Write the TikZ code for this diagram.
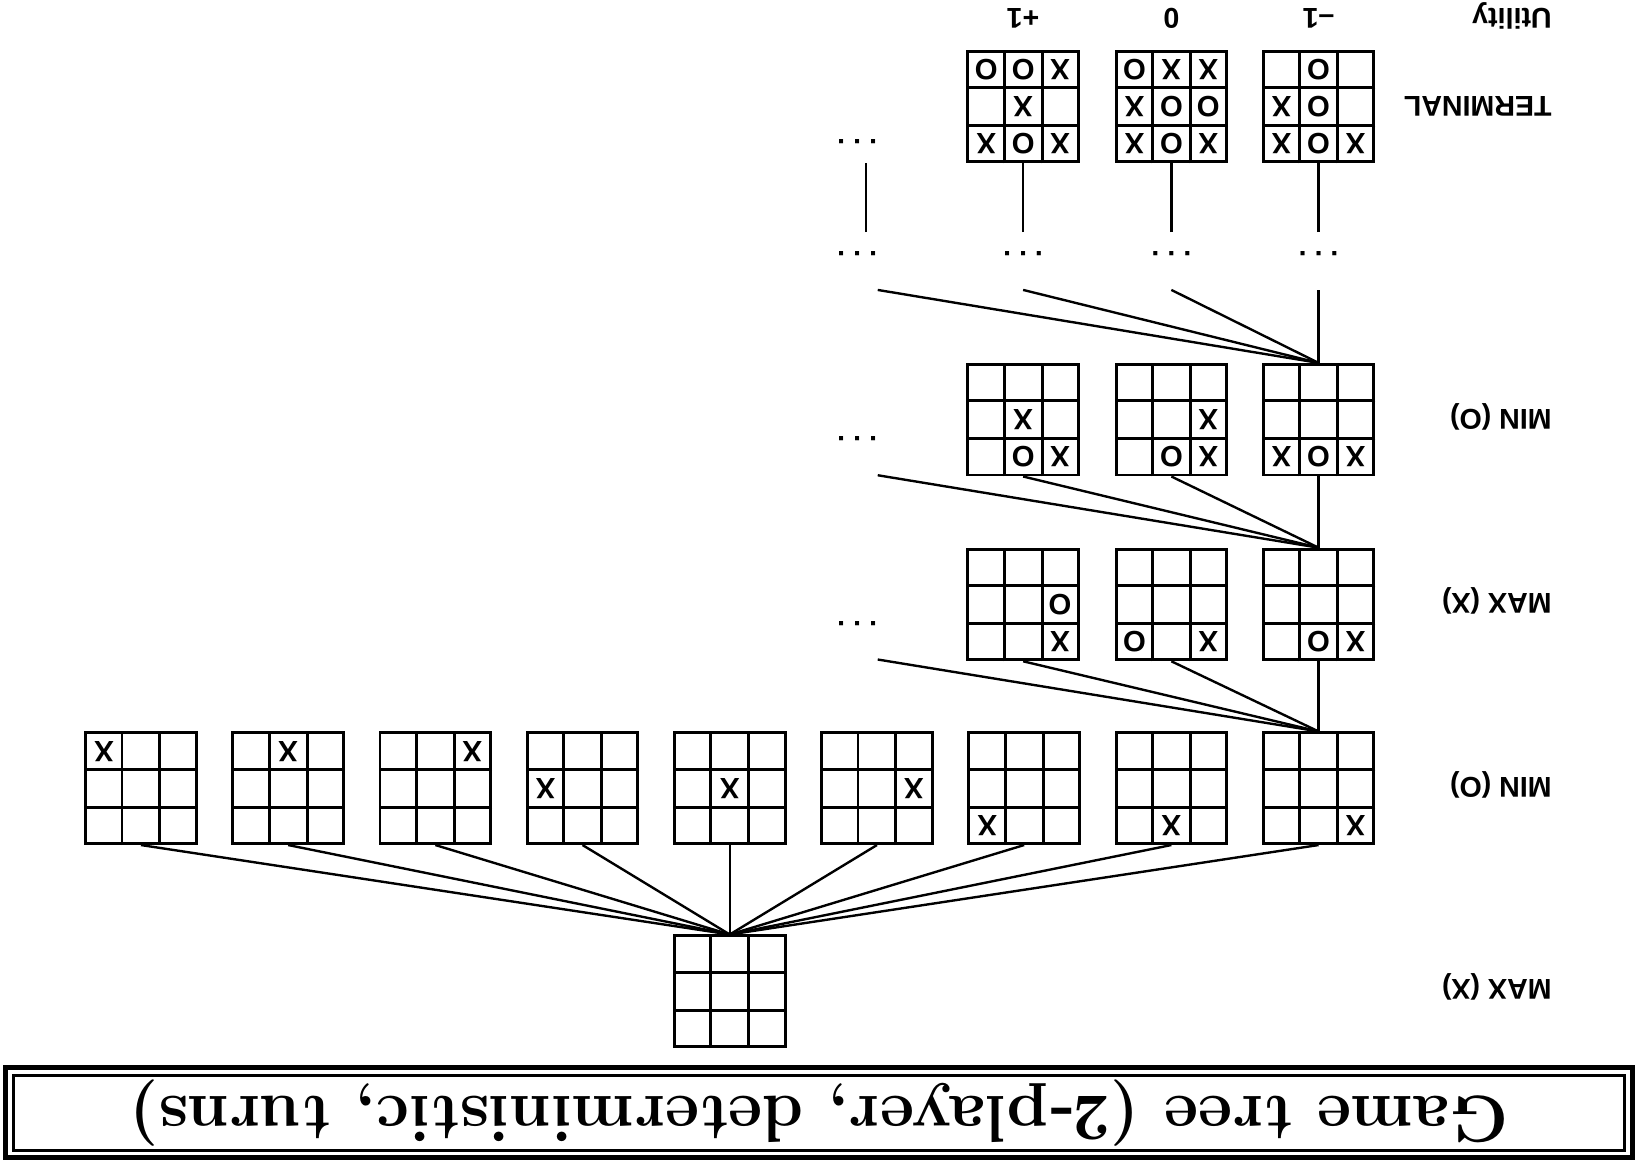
\documentclass[tikz,border=0pt]{standalone}
\usepackage{fontspec}
\newfontfamily\helv{Liberation Sans}
\usepackage{tikz}
\usetikzlibrary{calc,positioning}
\tikzset{bd/.style={draw, line width=.8pt, minimum size=10.6mm, inner sep=0pt}}
\tikzset{mk/.style={font=\helv\bfseries\fontsize{8}{8}\selectfont, inner sep=0pt}}
\tikzset{lab/.style={font=\helv\bfseries\fontsize{7.8}{8}\selectfont, inner sep=0pt,
  anchor=base west}}
\tikzset{dd/.style={font=\helv\bfseries\fontsize{7.8}{8}\selectfont, inner sep=0pt,
  text height=3.6mm, text depth=1.8mm, anchor=base}}
\tikzset{e/.style={draw, line width=.65pt}}
%% one 3x3 board: name, centre, marks as row/col/letter
\newcommand{\board}[3]{%
  \node[bd] (#1) at (#2) {};
  \foreach \k in {1,2} {
    \draw[line width=.8pt] ($(#1.north west)!\k/3!(#1.north east)$) --
      ($(#1.south west)!\k/3!(#1.south east)$);
    \draw[line width=.8pt] ($(#1.north west)!\k/3!(#1.south west)$) --
      ($(#1.north east)!\k/3!(#1.south east)$);
  }
  \foreach \r/\c/\m in {#3}
    \node[mk] at ($(#1.center)+(\c*3.533mm-3.533mm,3.533mm-\r*3.533mm)$) {\m};
}

\begin{document}
\begin{tikzpicture}
    \begin{scope}[rotate=180, transform shape]
        \useasboundingbox (0,0) rectangle (15.68,11.17);
        %% title
        \draw[line width=1.4pt] (.043,10.225) rectangle (15.624,11.087);
        \node[draw, line width=.9pt, minimum width=15.43cm, minimum height=7.23mm,
          inner sep=0pt, font=\bfseries\fontsize{18.1}{20}\selectfont]
          (title) at (7.835,10.66) {Game tree (2-player, deterministic, turns)};
        %% level labels
        \node[lab] (lmax) at (.81,9.38) {MAX (X)};
        \node[lab] (lmin) at (.81,7.45) {MIN (O)};
        \node[lab] (lmax2) at (.81,5.68) {MAX (X)};
        \node[lab] (lmin2) at (.81,3.92) {MIN (O)};
        \node[lab] (lterm) at (.81,.92) {TERMINAL};
        \node[lab] (lutil) at (.81,.08) {Utility};
        %% root
        \board{root}{8.69,9.495}{}
        %% first MIN level
        \board{m1}{3.05,7.55}{0/0/X}
        \board{m2}{4.46,7.55}{0/1/X}
        \board{m3}{5.87,7.55}{0/2/X}
        \board{m4}{7.28,7.55}{1/0/X}
        \board{m5}{8.69,7.55}{1/1/X}
        \board{m6}{10.10,7.55}{1/2/X}
        \board{m7}{11.51,7.55}{2/0/X}
        \board{m8}{12.92,7.55}{2/1/X}
        \board{m9}{14.33,7.55}{2/2/X}
        \foreach \i in {1,...,9}
            \draw [e] (root.south) -- (m\i.north);
        %% MAX level
        \board{x1}{3.05,5.79}{0/0/X,0/1/O}
        \board{x2}{4.46,5.79}{0/0/X,0/2/O}
        \board{x3}{5.88,5.79}{0/0/X,1/0/O}
        \node[dd] (xd) at (7.47,5.95) {.\ .\ .};
        \draw [e] (m1.south) -- (x1.north);
        \draw [e] (m1.south) -- (x2.north);
        \draw [e] (m1.south) -- (x3.north);
        \draw [e] (m1.south) -- (xd.north west);
        %% second MIN level
        \board{n1}{3.05,4.02}{0/0/X,0/1/O,0/2/X}
        \board{n2}{4.46,4.02}{0/0/X,0/1/O,1/0/X}
        \board{n3}{5.88,4.02}{0/0/X,0/1/O,1/1/X}
        \node[dd] (nd) at (7.47,4.185) {.\ .\ .};
        \draw [e] (x1.south) -- (n1.north);
        \draw [e] (x1.south) -- (n2.north);
        \draw [e] (x1.south) -- (n3.north);
        \draw [e] (x1.south) -- (nd.north west);
        %% dots row
        \node[dd] (d1) at (3.05,2.41) {.\ .\ .};
        \node[dd] (d2) at (4.46,2.41) {.\ .\ .};
        \node[dd] (d3) at (5.88,2.41) {.\ .\ .};
        \node[dd] (d4) at (7.47,2.41) {.\ .\ .};
        \draw [e] (n1.south) -- (d1.north);
        \draw [e] (n1.south) -- (d2.north);
        \draw [e] (n1.south) -- (d3.north);
        \draw [e] (n1.south) -- (d4.north west);
        %% terminal states
        \board{t1}{3.05,1.02}{0/0/X,0/1/O,0/2/X,1/1/O,1/2/X,2/1/O}
        \board{t2}{4.46,1.02}{0/0/X,0/1/O,0/2/X,1/0/O,1/1/O,1/2/X,2/0/X,2/1/X,2/2/O}
        \board{t3}{5.88,1.02}{0/0/X,0/1/O,0/2/X,1/1/X,2/0/X,2/1/O,2/2/O}
        \node[dd, text height=2.1mm] (td) at (7.47,1.34) {.\ .\ .};
        \draw [e] (d1.south) -- (t1.north);
        \draw [e] (d2.south) -- (t2.north);
        \draw [e] (d3.south) -- (t3.north);
        \draw [e] ($(d4.south)+(-.085,0)$) -- ($(td.north)+(-.085,0)$);
        %% utilities
        \node[lab, anchor=base] (u1) at (3.05,.08) {–1};
        \node[lab, anchor=base] (u2) at (4.46,.08) {0};
        \node[lab, anchor=base] (u3) at (5.88,.08) {+1};
    \end{scope}
\end{tikzpicture}
\end{document}
